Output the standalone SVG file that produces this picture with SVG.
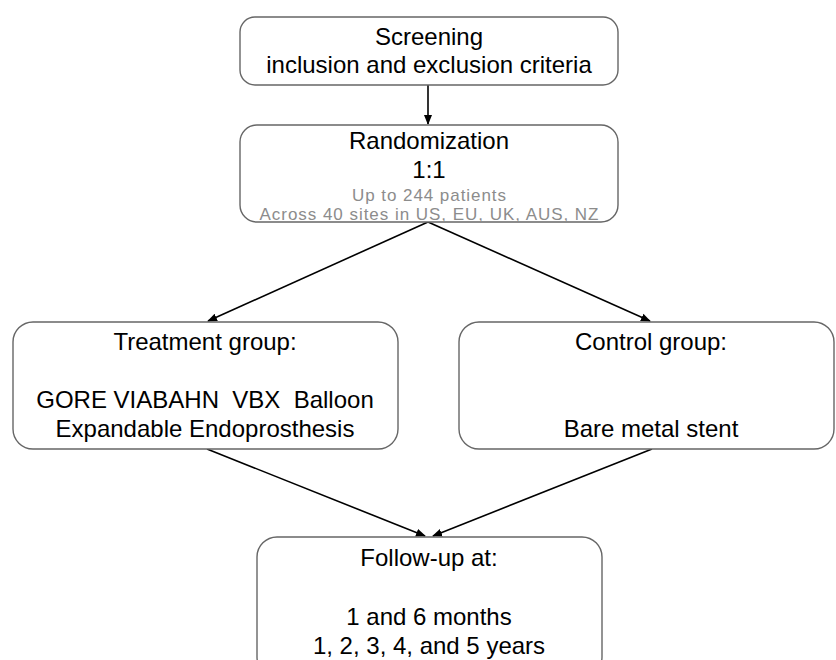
<svg xmlns="http://www.w3.org/2000/svg" width="836" height="660" viewBox="0 0 836 660">
<style>
.box{fill:#ffffff;stroke:#666666;stroke-width:1.4}
.t{font-family:"Liberation Sans",Arial,sans-serif;font-size:24px;fill:#000000;text-anchor:middle}
.g{font-family:"Liberation Sans",Arial,sans-serif;font-size:17px;fill:#8c8c8c;text-anchor:middle}
.c{stroke:#000000;stroke-width:1.6;fill:none;marker-end:url(#ah)}
</style>
<defs>
<marker id="ah" markerUnits="userSpaceOnUse" markerWidth="10" markerHeight="10" viewBox="0 0 10 10" refX="9" refY="5" orient="auto">
<path d="M0,1 L10,5 L0,9 Z" fill="#000000"/>
</marker>
</defs>
<rect width="836" height="660" fill="#ffffff"/>
<g id="connectors">
<line class="c" x1="428" y1="85" x2="428" y2="124"/>
<line class="c" x1="428" y1="222" x2="208" y2="321"/>
<line class="c" x1="428" y1="222" x2="650" y2="321"/>
<line class="c" x1="207" y1="449" x2="425" y2="536"/>
<line class="c" x1="652" y1="449" x2="433" y2="536"/>
</g>
<g id="screening">
<rect class="box" x="240" y="17" width="378" height="68" rx="15"/>
<text class="t" x="429" y="45">Screening</text>
<text class="t" x="429" y="73">inclusion and exclusion criteria</text>
</g>
<g id="randomization">
<rect class="box" x="240" y="125" width="378" height="97" rx="17"/>
<text class="t" x="429" y="149">Randomization</text>
<text class="t" x="429" y="178">1:1</text>
<text class="g" x="429" y="201" textLength="154" lengthAdjust="spacing">Up to 244 patients</text>
<text class="g" x="429" y="220" textLength="339" lengthAdjust="spacing">Across 40 sites in US, EU, UK, AUS, NZ</text>
</g>
<g id="treatment">
<rect class="box" x="13" y="322" width="385" height="127" rx="20"/>
<text class="t" x="205" y="350">Treatment group:</text>
<text class="t" x="205" y="408" xml:space="preserve">GORE VIABAHN  VBX  Balloon</text>
<text class="t" x="205" y="437">Expandable Endoprosthesis</text>
</g>
<g id="control">
<rect class="box" x="459" y="322" width="375" height="127" rx="20"/>
<text class="t" x="651" y="350">Control group:</text>
<text class="t" x="651" y="437">Bare metal stent</text>
</g>
<g id="followup">
<rect class="box" x="257" y="537" width="345" height="140" rx="20"/>
<text class="t" x="429" y="566">Follow-up at:</text>
<text class="t" x="429" y="625">1 and 6 months</text>
<text class="t" x="429" y="654">1, 2, 3, 4, and 5 years</text>
</g>
</svg>
